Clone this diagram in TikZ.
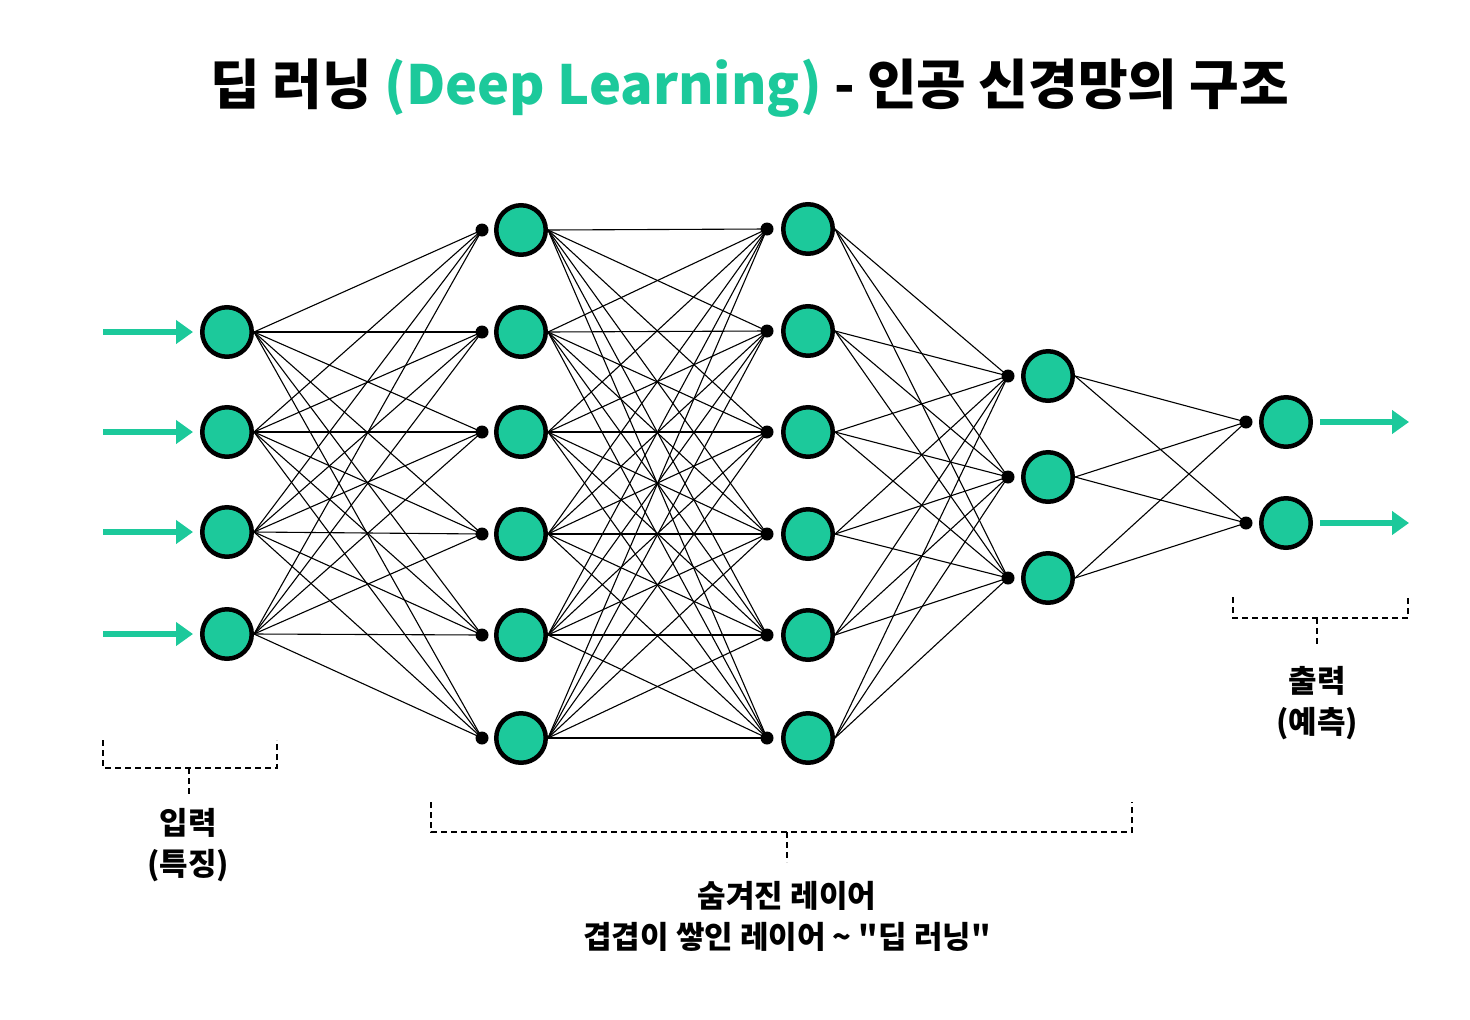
\documentclass[tikz,border=0pt]{standalone}
\usepackage{fontspec}
\setmainfont{Noto Sans CJK KR}[Ligatures=TeXOff]
\usetikzlibrary{arrows.meta}
\definecolor{teal1}{RGB}{28,201,155}
\tikzset{
  neuron/.style={circle,draw=black,line width=3pt,fill=teal1,minimum size=51pt,inner sep=0pt},
  junction/.style={circle,fill=black,minimum size=13pt,inner sep=0pt},
  link/.style={draw=black,line width=1.1pt},
  flow/.style={draw=teal1,line width=6pt,-{Triangle[length=17pt,width=23pt]}},
  brace/.style={draw=black,line width=2pt,dash pattern=on 6pt off 4pt},
  lbl/.style={font=\fontsize{31}{41}\selectfont\bfseries,align=center}
}
\begin{document}
\begin{tikzpicture}[x=1pt,y=-1pt]
\useasboundingbox[fill=white] (0,0) rectangle (1470,1020);
% title
\node (title) at (750,88) {\fontsize{54}{64}\selectfont\bfseries 딥 러닝 \textcolor{teal1}{(Deep Learning)} - 인공 신경망의 구조};
% input layer
\foreach \i/\y in {1/332,2/432,3/532,4/634} {
  \node[neuron] (a\i) at (227,\y) {};
  \coordinate (in\i) at (103,\y);
  \draw[flow] (in\i) -- ([xshift=-7pt]a\i.west);
}
% layer b
\foreach \i/\y in {1/230,2/332,3/432,4/534,5/635,6/738} {
  \node[neuron] (b\i) at (521,\y) {};
  \node[junction] (bd\i) at (482,\y) {};
}
% layer c
\foreach \i/\y in {1/229,2/331,3/432,4/534,5/635,6/738} {
  \node[neuron] (c\i) at (808,\y) {};
  \node[junction] (cd\i) at (767,\y) {};
}
% layer d
\foreach \i/\y in {1/376,2/477,3/578} {
  \node[neuron] (d\i) at (1048,\y) {};
  \node[junction] (dd\i) at (1008,\y) {};
}
% layer e
\foreach \i/\y in {1/422,2/523} {
  \node[neuron] (e\i) at (1286,\y) {};
  \node[junction] (ed\i) at (1246,\y) {};
  \coordinate (out\i) at (1409,\y);
  \draw[flow] ([xshift=7pt]e\i.east) -- (out\i);
}
% connections
\foreach \i in {1,...,4} \foreach \j in {1,...,6} \draw[link] (a\i.east) -- (bd\j.center);
\foreach \i in {1,...,6} \foreach \j in {1,...,6} \draw[link] (b\i.east) -- (cd\j.center);
\foreach \i in {1,...,6} \foreach \j in {1,...,3} \draw[link] (c\i.east) -- (dd\j.center);
\foreach \i in {1,...,3} \foreach \j in {1,...,2} \draw[link] (d\i.east) -- (ed\j.center);
% redraw neurons on top of the links
\foreach \n in {a1,a2,a3,a4,b1,b2,b3,b4,b5,b6,c1,c2,c3,c4,c5,c6,d1,d2,d3,e1,e2}
  \draw[line width=3pt,fill=teal1] (\n) circle (24pt);
% input bracket
\coordinate (ib1) at (103,740); \coordinate (ib2) at (103,768);
\coordinate (ib3) at (277,768); \coordinate (ib4) at (277,740);
\coordinate (is1) at (189,768); \coordinate (is2) at (189,797);
\draw[brace] (ib1) -- (ib2) -- (ib3) -- (ib4);
\draw[brace] (is1) -- (is2);
\node[lbl] (inlbl) at (188,845) {입력\\(특징)};
% hidden bracket
\coordinate (hb1) at (431,802); \coordinate (hb2) at (431,832);
\coordinate (hb3) at (1132,832); \coordinate (hb4) at (1132,802);
\coordinate (hs1) at (787,832); \coordinate (hs2) at (787,862);
\draw[brace] (hb1) -- (hb2) -- (hb3) -- (hb4);
\draw[brace] (hs1) -- (hs2);
\node[lbl] (hidlbl) at (787,916) {숨겨진 레이어\\겹겹이 쌓인 레이어 \textasciitilde{} "딥 러닝"};
% output bracket
\coordinate (ob1) at (1233,597); \coordinate (ob2) at (1233,618);
\coordinate (ob3) at (1408,618); \coordinate (ob4) at (1408,597);
\coordinate (os1) at (1317,618); \coordinate (os2) at (1317,646);
\draw[brace] (ob1) -- (ob2) -- (ob3) -- (ob4);
\draw[brace] (os1) -- (os2);
\node[lbl] (outlbl) at (1317,703) {출력\\(예측)};
\end{tikzpicture}
\end{document}
